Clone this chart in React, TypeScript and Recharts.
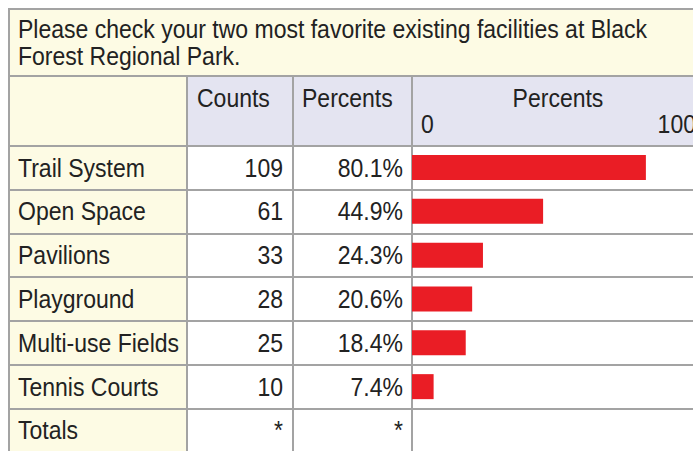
import React from 'react'
import { BarChart, Bar, XAxis, YAxis } from 'recharts'

const facilities = ['Trail System', 'Open Space', 'Pavilions', 'Playground', 'Multi-use Fields', 'Tennis Courts']
const counts = [109, 61, 33, 28, 25, 10]
const percents = [80.1, 44.9, 24.3, 20.6, 18.4, 7.4]
const axisTicks = [0, 100]

const data = facilities.map((name, i) => ({ name, count: counts[i], pct: percents[i] }))

const FONT = '"Liberation Sans", Arial, Helvetica, sans-serif'
const FS = 25
const SQUEEZE = 0.92
const YELLOW = '#fdfbe4'
const LAVENDER = '#e4e4f1'
const LINE = '#a3a3a3'
const RED = '#ea1d25'

const colX = [0, 179, 285, 404, 696]
const titleH = 68
const headerBottom = 138
const rowH = 43.83
const rowTop = (i: number) => headerBottom + i * rowH

function PercentTick(props: any) {
  const { x, payload } = props
  const isZero = payload.value === 0
  const tx = isZero ? x + 9 : x - 8
  return (
    <text
      transform={`translate(${tx},57) scale(${SQUEEZE},1)`}
      textAnchor={isZero ? 'start' : 'end'}
      fontFamily={FONT}
      fontSize={FS}
      fill="#222"
    >
      {payload.value}
    </text>
  )
}

export default function App() {
  const rows = [...data.map((d) => ({ label: d.name, c: String(d.count), p: d.pct.toFixed(1) + '%' })), { label: 'Totals', c: '*', p: '*' }]
  const cell = (left: number, top: number, width: number, height: number, bg: string) => (
    <div style={{ position: 'absolute', left, top, width, height, background: bg }} />
  )
  const hline = (top: number, key: string) => (
    <div key={key} style={{ position: 'absolute', left: 0, top: top - 1, width: 696, height: 2, background: LINE }} />
  )
  const vline = (left: number, top: number, height: number, key: string) => (
    <div key={key} style={{ position: 'absolute', left: left - 1, top, width: 2, height, background: LINE }} />
  )
  const text = (s: string, left: number, top: number, width: number, align: 'left' | 'right' | 'center', key: string) => (
    <div
      key={key}
      style={{
        position: 'absolute',
        left,
        top,
        width,
        textAlign: align,
        fontSize: FS,
        lineHeight: FS + 'px',
        color: '#222',
        whiteSpace: 'nowrap',
        transform: `scaleX(${SQUEEZE})`,
        transformOrigin: align === 'left' ? 'left' : align === 'right' ? 'right' : 'center',
      }}
    >
      {s}
    </div>
  )
  const bottom = 460

  return (
    <div style={{ width: 693, height: 451, background: '#fff', position: 'relative', overflow: 'hidden' }}>
      <style>{'body{margin:0}'}</style>
      <div
        style={{
          position: 'absolute',
          left: 8,
          top: 8,
          width: 685,
          height: 443,
          overflow: 'hidden',
          fontFamily: FONT,
        }}
      >
        {cell(0, 0, 696, titleH, YELLOW)}
        {cell(0, titleH, colX[1], bottom - titleH, YELLOW)}
        {cell(colX[1], titleH, 696 - colX[1], headerBottom - titleH, LAVENDER)}

        {hline(1, 'top')}
        {hline(titleH, 'title')}
        {hline(headerBottom, 'head')}
        {rows.map((_, i) => hline(rowTop(i + 1), 'r' + i))}
        {vline(1, 0, bottom, 'v0')}
        {colX.slice(1, 4).map((x, i) => vline(x, titleH, bottom - titleH, 'v' + (i + 1)))}

        {text('Please check your two most favorite existing facilities at Black', 10, 9, 700, 'left', 't1')}
        {text('Forest Regional Park.', 10, 36, 700, 'left', 't2')}

        {text('Counts', colX[1] + 10, 78, 100, 'left', 'h1')}
        {text('Percents', colX[2] + 9, 78, 110, 'left', 'h2')}
        {text('Percents', colX[3], 78, colX[4] - colX[3], 'center', 'h3')}

        {rows.map((r, i) => (
          <React.Fragment key={'row' + i}>
            {text(r.label, 10, rowTop(i) + 9.5, 170, 'left', 'l' + i)}
            {text(r.c, colX[1], rowTop(i) + 9.5, colX[2] - colX[1] - 10, 'right', 'c' + i)}
            {text(r.p, colX[2], rowTop(i) + 9.5, colX[3] - colX[2] - 9, 'right', 'p' + i)}
          </React.Fragment>
        ))}

        <div style={{ position: 'absolute', left: colX[3], top: titleH }}>
          <BarChart
            width={colX[4] - colX[3]}
            height={rowTop(6) - titleH}
            data={data}
            layout="vertical"
            margin={{ top: 0, right: 0, bottom: 0, left: 0 }}
            barCategoryGap={0}
          >
            <XAxis
              type="number"
              orientation="top"
              domain={[0, 100]}
              ticks={axisTicks}
              interval={0}
              height={headerBottom - titleH}
              axisLine={false}
              tickLine={false}
              tick={<PercentTick />}
            />
            <YAxis type="category" dataKey="name" hide width={0} />
            <Bar dataKey="pct" fill={RED} barSize={25} isAnimationActive={false} />
          </BarChart>
        </div>
      </div>
    </div>
  )
}
